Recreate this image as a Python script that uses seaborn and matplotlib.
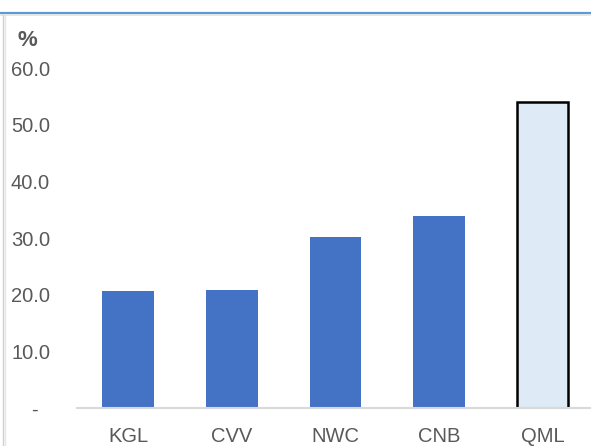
import matplotlib
matplotlib.use("Agg")
import matplotlib.pyplot as plt
import seaborn as sns
import pandas as pd
from matplotlib.lines import Line2D

categories = ["KGL", "CVV", "NWC", "CNB", "QML"]
values = [20.6, 20.8, 30.2, 33.9, 54.0]
bar_colors = ["#4472C4", "#4472C4", "#4472C4", "#4472C4", "#DEEBF7"]
yticks = [0, 10, 20, 30, 40, 50, 60]
ytick_labels = ["-  ", "10.0", "20.0", "30.0", "40.0", "50.0", "60.0"]

sns.set_theme(style="white")
plt.rcParams['font.family'] = ['Liberation Sans', 'DejaVu Sans']

W, H = 591, 446
fig = plt.figure(figsize=(W / 100, H / 100), dpi=100)
left, right = 76.5, 594.3
base, top = 408, 68
ax = fig.add_axes([left / W, (H - base) / H, (right - left) / W, (base - top) / H])

df = pd.DataFrame({"cat": categories, "val": values})
sns.barplot(data=df, x="cat", y="val", hue="cat", palette=bar_colors,
            width=0.5, legend=False, ax=ax, saturation=1)

for p in ax.patches:
    p.set_edgecolor("none")
qml = ax.patches[categories.index("QML")]
qml.set_edgecolor("#000000")
qml.set_linewidth(1.8)

ax.set_xlim(-0.5, 4.5)
ax.set_ylim(0, 60)
ax.set_yticks(yticks)
ax.set_yticklabels(ytick_labels)
ax.set_xlabel("")
ax.set_ylabel("")
for s in ["top", "right", "left"]:
    ax.spines[s].set_visible(False)
ax.spines["bottom"].set_color("#D9D9D9")
ax.spines["bottom"].set_linewidth(1.5)
ax.spines["bottom"].set_zorder(5)
ax.tick_params(axis="y", length=0, pad=19, labelsize=14.5, labelcolor="#595959")
ax.tick_params(axis="x", length=0, pad=14, labelsize=14.5, labelcolor="#595959")

fig.text(18 / W, 1 - 40 / H, "%", fontsize=16, fontweight="bold", color="#595959",
         ha="left", va="center")

# frame decorations
fig.add_artist(Line2D([0, 1], [1 - 12.5 / H, 1 - 12.5 / H], color="#5B9BD5", lw=1.6,
                      transform=fig.transFigure))
fig.add_artist(Line2D([0, 1], [1 - 15 / H, 1 - 15 / H], color="#E3E3E3", lw=1.2,
                      transform=fig.transFigure))
fig.add_artist(Line2D([2.5 / W, 2.5 / W], [0, 1 - 15 / H], color="#D0D0D0", lw=1.0,
                      transform=fig.transFigure))
fig.add_artist(Line2D([4.5 / W, 4.5 / W], [0, 1 - 15 / H], color="#E6E6E6", lw=1.0,
                      transform=fig.transFigure))

fig.savefig("out.png", dpi=100)
